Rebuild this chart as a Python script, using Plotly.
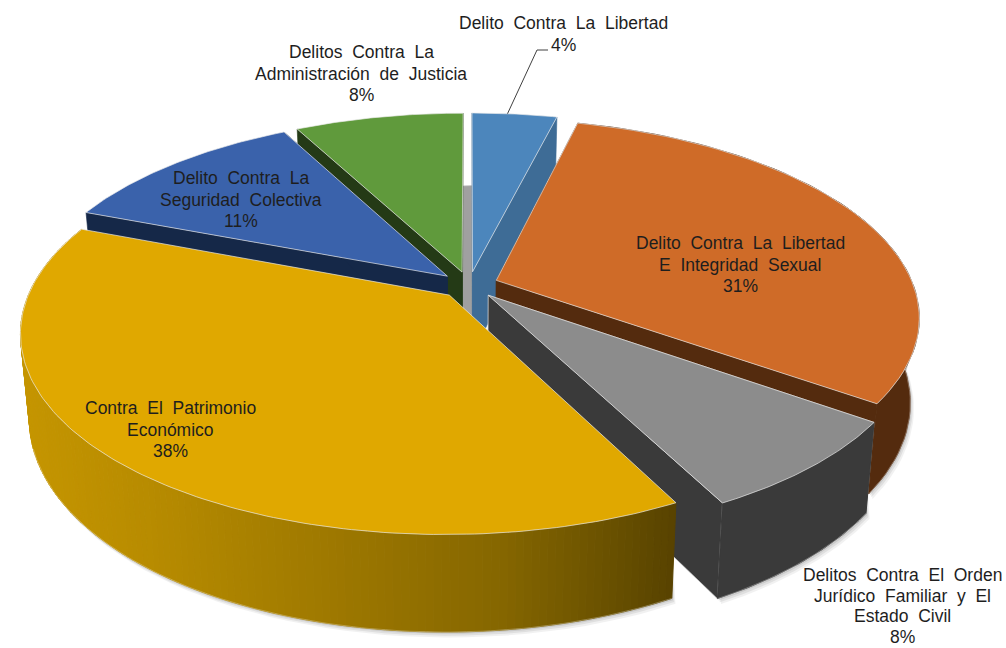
import math
import plotly.graph_objects as go

# ---- data (clockwise from 12 o'clock) ----
categories = [
    "Delito Contra La Libertad",
    "Delito Contra La Libertad<br>E Integridad Sexual",
    "Delitos Contra El Orden<br>Jurídico Familiar y El<br>Estado Civil",
    "Contra El Patrimonio<br>Económico",
    "Delito Contra La<br>Seguridad Colectiva",
    "Delitos Contra La<br>Administración de Justicia",
]
values = [3.89, 30.97, 7.56, 38.42, 11.44, 7.72]
top_colors = ["#4C86BC", "#CF6B28", "#8C8C8C", "#E0A800", "#3A62AB", "#609A3C"]
wall_colors = ["#3E6C96", "#542B0E", "#3A3A3A", None, "#152848", "#243A16"]
label_xy = [(563, 23), (740, 243), (902, 575), (170, 408), (241, 178), (361, 52)]
line_steps = [21.5, 21.5, 20.7, 21.5, 21.5, 21.5]

# ---- projection of the tilted pie onto the page ----
CX, CY = 469, 285
RX, RY = 417, 192
K = 0.181
EXPLODE = 0.07
DEPTH = 83
SHRINK = 0.02


def project(px, py, z=0.0):
    s = 1 / (1 + K * py)
    f = 1 - SHRINK * z
    return (CX + RX * px * s * f, CY - RY * py * s * f + DEPTH * z * s)


def point(mid, ang, r, z=0.0):
    m, a = math.radians(mid), math.radians(ang)
    return project(EXPLODE * math.sin(m) + r * math.sin(a),
                   EXPLODE * math.cos(m) + r * math.cos(a), z)


def mix(stops, t):
    for (t0, c0), (t1, c1) in zip(stops, stops[1:]):
        if t <= t1:
            u = max(0, (t - t0) / (t1 - t0))
            return "rgb(%d,%d,%d)" % tuple(c0[i] + (c1[i] - c0[i]) * u for i in range(3))
    return "rgb(%d,%d,%d)" % stops[-1][1]


YELLOW_WALL = [(20, (198, 150, 0)), (150, (184, 140, 0)), (320, (160, 122, 0)),
               (500, (134, 103, 0)), (600, (108, 83, 0)), (675, (88, 67, 0))]

fig = go.Figure()


def poly(pts, fill, line=None, width=1.0, opacity=1.0):
    fig.add_trace(go.Scatter(
        x=[p[0] for p in pts] + [pts[0][0]],
        y=[p[1] for p in pts] + [pts[0][1]],
        mode="lines", fill="toself", fillcolor=fill, opacity=opacity,
        line=dict(color=line or fill, width=width),
        hoverinfo="skip", showlegend=False))


# slice angle spans
spans, start = [], 0.0
total = sum(values)
for v in values:
    spans.append((start, start + 360 * v / total))
    start += 360 * v / total


def arc(i, z=0.0, n=60):
    a0, a1 = spans[i]
    mid = (a0 + a1) / 2
    return [point(mid, a0 + (a1 - a0) * j / n, 1, z) for j in range(n + 1)]


def apex(i, z=0.0):
    a0, a1 = spans[i]
    mid = (a0 + a1) / 2
    return point(mid, mid, 0, z)


FRONT = (1, 2, 3)  # slices whose outer wall faces the viewer

# soft shadow under the outer walls
for off, op in [(9, 0.05), (6, 0.07), (3, 0.09)]:
    for i in FRONT:
        a = arc(i, 1.0)
        poly([(x + off * 0.4, y + off * 0.6) for x, y in a] + [(x, y - 60) for x, y in reversed(a)],
             "#000000", line="rgba(0,0,0,0)", opacity=op)

# gap wall seen between the last and the first slices
last, first = len(values) - 1, 0
poly([arc(last, 1.0)[-1], arc(first, 1.0)[0], apex(first, 1.0), apex(last, 1.0)], "#A0A0A0")

# painter's order: back to front
for i in [0, 5, 4, 1, 2, 3]:
    top = arc(i, 0.0, 150 if i == 3 else 60)
    bot = arc(i, 1.0, 150 if i == 3 else 60)
    ap, ab = apex(i, 0.0), apex(i, 1.0)
    if wall_colors[i]:
        col = wall_colors[i]
        edge = "#D8D8D8" if i == 2 else None
        # radial cut walls
        poly([ap, top[0], bot[0], ab], col, line=edge, width=0.6)
        poly([ap, top[-1], bot[-1], ab], col, line=edge, width=0.6)
        # outer wall
        if i in FRONT:
            poly(top + bot[::-1], col)
    else:
        # outer wall with a horizontal gradient
        n = len(top) - 1
        for j in range(n):
            q = [top[j], top[j + 1], bot[j + 1], bot[j]]
            poly(q, mix(YELLOW_WALL, sum(p[0] for p in q) / 4))
    if i in FRONT:
        rim = bot[: int(len(bot) * 0.72)] if i == 3 else bot
        fig.add_trace(go.Scatter(x=[p[0] for p in rim], y=[p[1] for p in rim], mode="lines",
                                 line=dict(color="rgba(255,255,255,0.35)", width=0.8),
                                 hoverinfo="skip", showlegend=False))
    poly([ap] + top, top_colors[i], line="rgba(235,235,235,0.75)", width=0.9)

# leader line of the first slice
lead = arc(0, 0.0)
lx, ly = lead[int(len(lead) * 0.42)]
fig.add_trace(go.Scatter(x=[lx, 537, 548], y=[ly, 50, 50], mode="lines",
                         line=dict(color="#404040", width=1), hoverinfo="skip", showlegend=False))

pct = [round(100 * v / total) for v in values]
GAP = " \u00a0"
for cat, p, (x, y), step in zip(categories, pct, label_xy, line_steps):
    for k, row in enumerate(cat.split("<br>") + [f"{p}%"]):
        fig.add_annotation(x=x, y=y + k * step, text=row.replace(" ", GAP), showarrow=False,
                           xanchor="center", yanchor="middle", align="center",
                           font=dict(family="Liberation Sans, Arial, sans-serif", size=17.5, color="#1E1E1E"))

fig.update_xaxes(visible=False, range=[0, 1006], fixedrange=True)
fig.update_yaxes(visible=False, range=[648, 0], fixedrange=True)
fig.update_layout(width=1006, height=648, margin=dict(l=0, r=0, t=0, b=0),
                  paper_bgcolor="white", plot_bgcolor="white", showlegend=False)
fig.write_html("out.html", config={"displayModeBar": False},
               post_script="document.body.style.margin='0';")
